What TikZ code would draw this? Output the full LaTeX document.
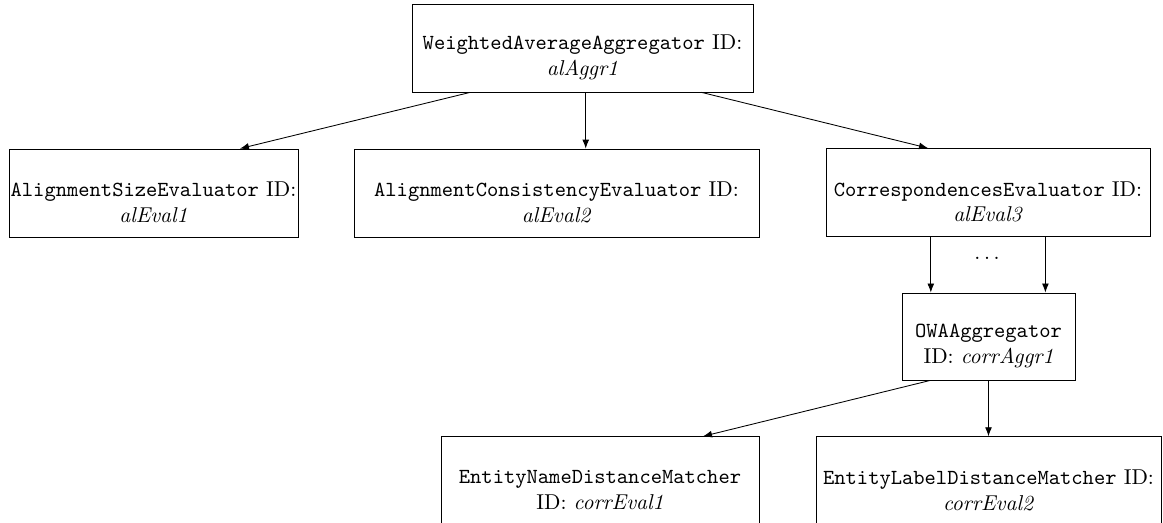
\documentclass[tikz,border=0pt]{standalone}
\usetikzlibrary{arrows.meta}
\begin{document}
\begin{tikzpicture}[x=0.4651pt,y=-0.4651pt,
  box/.style={draw, rectangle, inner sep=0pt, minimum height=40.9pt},
  lbl/.style={align=center, inner sep=0pt},
  arr/.style={-{Latex[length=4.2pt,width=3.2pt]}},
  every label/.style={lbl}]
\useasboundingbox (0,0) rectangle (1163,522);

% aggregation tree
\node[box, minimum width=158.6pt,
  label={[yshift=-4.4pt]center:\texttt{WeightedAverageAggregator} ID:\\ \textit{alAggr1}}]
  (agg) at (582.5,48) {};

\node[box, minimum width=134.4pt,
  label={[yshift=-4.4pt]center:\texttt{AlignmentSizeEvaluator} ID:\\ \textit{alEval1}}]
  (ev1) at (153.5,193) {};
\node[box, minimum width=188.4pt,
  label={[yshift=-4.4pt]center:\texttt{AlignmentConsistencyEvaluator} ID:\\ \textit{alEval2}}]
  (ev2) at (556.5,193) {};
\node[box, minimum width=150.7pt,
  label={[yshift=-4.4pt]center:\texttt{CorrespondencesEvaluator} ID:\\ \textit{alEval3}}]
  (ev3) at (988,192.5) {};

\node[box, minimum width=80.5pt, minimum height=40.5pt,
  label={[yshift=-4.4pt]center:\texttt{OWAAggregator}\\ ID: \textit{corrAggr1}}]
  (owa) at (988.5,336.5) {};

\node[box, minimum width=147.9pt,
  label={[yshift=-4.4pt]center:\texttt{EntityNameDistanceMatcher}\\ ID: \textit{corrEval1}}]
  (cm1) at (600,480.7) {};
\node[box, minimum width=160.5pt,
  label={[yshift=-4.4pt]center:\texttt{EntityLabelDistanceMatcher} ID:\\ \textit{corrEval2}}]
  (cm2) at (988.5,480.7) {};

\node[inner sep=0pt] (dots) at (987,258) {$\ldots$};

% connectors
\draw[arr] ([xshift=-52.3pt]agg.south) -- ([xshift=40.2pt]ev1.north);
\draw[arr] ([xshift=1.5pt]agg.south) -- ([xshift=1.5pt]agg.south |- ev2.north);
\draw[arr] ([xshift=55.4pt]agg.south) -- ([xshift=-27.9pt]ev3.north);

\draw[arr] ([xshift=-26.6pt]ev3.south) -- ([xshift=-26.6pt]ev3.south |- owa.north);
\draw[arr] ([xshift=26.7pt]ev3.south) -- ([xshift=26.7pt]ev3.south |- owa.north);

\draw[arr] ([xshift=-27.2pt]owa.south) -- ([xshift=47.9pt]cm1.north);
\draw[arr] (owa.south) -- (owa.south |- cm2.north);
\end{tikzpicture}
\end{document}
